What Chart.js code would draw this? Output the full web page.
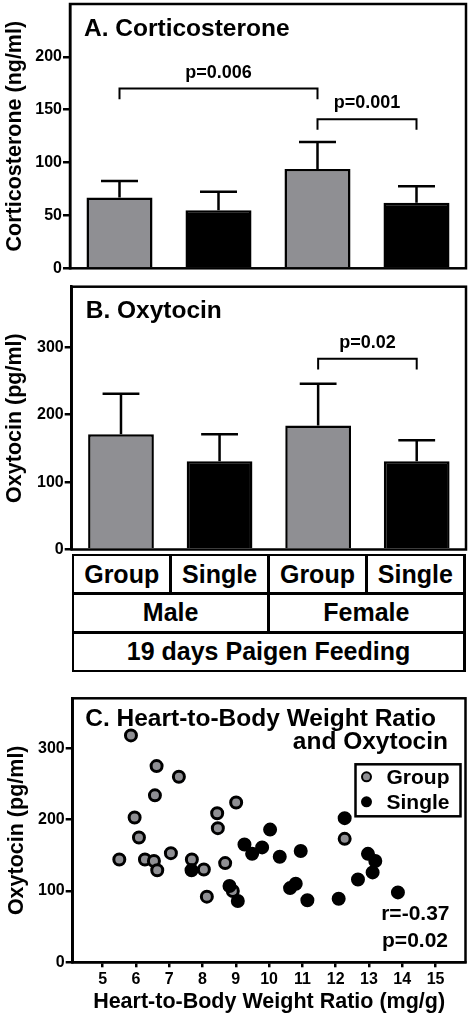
<!DOCTYPE html>
<html><head><meta charset="utf-8">
<script src="https://cdn.jsdelivr.net/npm/chart.js@4.4.1/dist/chart.umd.min.js"></script>
<style>
html,body{margin:0;padding:0;background:#fff;}
body{width:474px;height:1024px;position:relative;overflow:hidden;font-family:'Liberation Sans',Arial,sans-serif;}
.box{position:absolute;left:0;width:474px;}
#tbl{position:absolute;left:71.5px;top:553.8px;width:394px;height:118.4px;box-sizing:border-box;background:#000;padding:2.5px;display:grid;grid-template-columns:repeat(4,1fr);grid-template-rows:repeat(3,1fr);gap:2.5px;}
#tbl div{background:#fff;display:flex;align-items:center;justify-content:center;font-weight:bold;font-size:25px;color:#000;}
</style></head><body>
<div class="box" style="top:0;height:282px"><canvas id="cA"></canvas></div>
<div class="box" style="top:280px;height:282px"><canvas id="cB"></canvas></div>
<div class="box" style="top:680px;height:344px"><canvas id="cC"></canvas></div>
<div id="tbl"></div>
<script>
// ---------- data ----------
const categories = ['Group', 'Single', 'Group', 'Single'];
const sexes = ['Male', 'Female'];
const treatment = '19 days Paigen Feeding';

const corticoMean = [67, 55, 94, 62];
const corticoErr = [15.5, 17.5, 25.5, 15.5];
const corticoTicks = [0, 50, 100, 150, 200];
const corticoFrom = [0, 2];
const corticoTo = [2, 3];
const corticoTop = [170, 141];
const corticoLeg = [160, 131];
const corticoP = ['p=0.006', 'p=0.001'];

const oxyMean = [171, 131, 184, 131];
const oxyErr = [60, 40, 62, 31];
const oxyTicks = [0, 100, 200, 300];
const oxyFrom = [2];
const oxyTo = [3];
const oxyTop = [283];
const oxyLeg = [267];
const oxyP = ['p=0.02'];

const scatterXTicks = [5, 6, 7, 8, 9, 10, 11, 12, 13, 14, 15];
const scatterYTicks = [0, 100, 200, 300];
const groupRatio = [5.85, 6.62, 7.29, 6.57, 5.96, 6.09, 5.50, 6.27, 6.54, 6.64, 7.05, 7.68, 8.04, 8.13, 8.44, 8.46, 8.68, 9.01, 8.91, 12.27];
const groupOxy   = [318, 275, 260, 234, 203, 175, 144, 144, 142, 129, 153, 144, 130, 92, 209, 188, 139, 224, 100, 173];
const singleRatio = [7.67, 8.81, 9.06, 9.26, 9.49, 9.79, 10.03, 10.32, 10.63, 10.80, 10.95, 11.15, 12.09, 12.27, 12.67, 12.97, 13.19, 13.11, 13.87];
const singleOxy   = [129, 107, 86, 165, 152, 161, 186, 148, 104, 110, 156, 87, 89, 202, 116, 152, 142, 126, 98];
const corrText = ['r=-0.37', 'p=0.02'];

// ---------- styles ----------
const FONT = "'Liberation Sans', Arial, sans-serif";
const GRAY = '#8f8f93';
const barColors = categories.map((c) => c === 'Group' ? GRAY : '#000000');
Chart.defaults.font.family = FONT;
Chart.defaults.font.weight = 'bold';
Chart.defaults.color = '#000';

// ---------- table ----------
const tbl = document.getElementById('tbl');
categories.forEach((c) => { const d = document.createElement('div'); d.textContent = c; tbl.appendChild(d); });
sexes.forEach((s) => { const d = document.createElement('div'); d.textContent = s; d.style.gridColumn = 'span 2'; tbl.appendChild(d); });
{ const d = document.createElement('div'); d.textContent = treatment; d.style.gridColumn = 'span 4'; tbl.appendChild(d); }

// ---------- plugins ----------
const framePlugin = {
  id: 'frame',
  afterDraw(chart) {
    const { ctx, chartArea: a } = chart;
    ctx.save(); ctx.strokeStyle = '#000'; ctx.lineWidth = 2.5;
    ctx.strokeRect(a.left, a.top, a.right - a.left, a.bottom - a.top);
    ctx.restore();
  }
};
function errorPlugin(errs) {
  return {
    id: 'errbars',
    afterDatasetsDraw(chart) {
      const meta = chart.getDatasetMeta(0), y = chart.scales.y, ctx = chart.ctx;
      const vals = chart.data.datasets[0].data;
      ctx.save(); ctx.strokeStyle = '#000'; ctx.lineWidth = 2.5; ctx.lineCap = 'butt';
      meta.data.forEach((bar, i) => {
        const top = y.getPixelForValue(vals[i] + errs[i]);
        const half = bar.width * 0.28;
        ctx.beginPath();
        ctx.moveTo(bar.x, bar.y); ctx.lineTo(bar.x, top);
        ctx.moveTo(bar.x - half, top); ctx.lineTo(bar.x + half, top);
        ctx.stroke();
      });
      ctx.restore();
    }
  };
}
function bracketPlugin(from, to, top, leg, labels) {
  return {
    id: 'brackets',
    afterDraw(chart) {
      const x = chart.scales.x, y = chart.scales.y, ctx = chart.ctx;
      ctx.save(); ctx.lineWidth = 2; ctx.strokeStyle = '#000'; ctx.fillStyle = '#000';
      ctx.font = 'bold 18px ' + FONT; ctx.textAlign = 'center'; ctx.textBaseline = 'alphabetic';
      from.forEach((f, i) => {
        const x1 = x.getPixelForValue(f), x2 = x.getPixelForValue(to[i]);
        const yt = y.getPixelForValue(top[i]), yl = y.getPixelForValue(leg[i]);
        ctx.beginPath(); ctx.moveTo(x1, yl); ctx.lineTo(x1, yt); ctx.lineTo(x2, yt); ctx.lineTo(x2, yl); ctx.stroke();
        ctx.fillText(labels[i], (x1 + x2) / 2, yt - 11);
      });
      ctx.restore();
    }
  };
}
function titlePlugin(text) {
  return {
    id: 'ptitle',
    afterDraw(chart) {
      const { ctx, chartArea: a } = chart;
      ctx.save(); ctx.fillStyle = '#000'; ctx.font = 'bold 24.5px ' + FONT;
      ctx.textAlign = 'left'; ctx.textBaseline = 'alphabetic';
      ctx.fillText(text, a.left + 14, a.top + 31.5);
      ctx.restore();
    }
  };
}

function yAxis(ticks, max, title, width, titlePad) {
  return {
    min: 0, max: max,
    afterBuildTicks: (s) => { s.ticks = ticks.map((v) => ({ value: v })); },
    afterFit: (s) => { s.width = width; s.paddingTop = 0; s.paddingBottom = 0; },
    ticks: { font: { size: 16, weight: 'bold' }, color: '#000', padding: 1 },
    grid: { display: true, drawOnChartArea: false, drawTicks: true, tickLength: 7, color: '#000', lineWidth: 2.5 },
    border: { display: true, color: '#000', width: 2.5 },
    title: { display: true, text: title, color: '#000', font: { size: 21.5, weight: 'bold' }, padding: { top: titlePad, bottom: 0 } }
  };
}

function barChart(id, means, errs, ticks, max, yTitle, title, width, pad, br) {
  new Chart(document.getElementById(id), {
    type: 'bar',
    data: { labels: categories, datasets: [{ data: means, backgroundColor: barColors, borderColor: '#000', borderWidth: 2.5, barPercentage: 0.667, categoryPercentage: 1 }] },
    options: {
      responsive: true, maintainAspectRatio: false, animation: false,
      layout: { padding: pad },
      plugins: { legend: { display: false }, tooltip: { enabled: false } },
      scales: {
        x: { display: false },
        y: yAxis(ticks, max, yTitle, width, 2)
      }
    },
    plugins: [errorPlugin(errs), bracketPlugin(...br), titlePlugin(title), framePlugin]
  });
}

barChart('cA', corticoMean, corticoErr, corticoTicks, 250, 'Corticosterone (ng/ml)', 'A. Corticosterone', 70,
  { top: 4, right: 8, bottom: 13.7, left: 0 }, [corticoFrom, corticoTo, corticoTop, corticoLeg, corticoP]);
barChart('cB', oxyMean, oxyErr, oxyTicks, 390, 'Oxytocin (pg/ml)', 'B. Oxytocin', 71.7,
  { top: 6.7, right: 8, bottom: 12.5, left: 0 }, [oxyFrom, oxyTo, oxyTop, oxyLeg, oxyP]);

// ---------- scatter ----------
const scatterDeco = {
  id: 'scatterDeco',
  afterDraw(chart) {
    const { ctx, chartArea: a } = chart;
    ctx.save(); ctx.fillStyle = '#000'; ctx.strokeStyle = '#000';
    ctx.font = 'bold 24.5px ' + FONT; ctx.textBaseline = 'alphabetic';
    ctx.textAlign = 'left'; ctx.fillText('C. Heart-to-Body Weight Ratio', a.left + 12.5, a.top + 27.7);
    ctx.textAlign = 'right'; ctx.fillText('and Oxytocin', a.right - 17.5, a.top + 51);
    // legend
    const bx = a.right - 110, by = a.top + 66, bw = 105, bh = 52;
    ctx.lineWidth = 2.5; ctx.strokeRect(bx, by, bw, bh);
    const items = [['Group', GRAY], ['Single', '#000']];
    ctx.font = 'bold 21px ' + FONT; ctx.textAlign = 'left'; ctx.textBaseline = 'middle';
    items.forEach((it, i) => {
      const cy = by + 12.5 + i * 25;
      ctx.beginPath(); ctx.arc(bx + 11, cy, 4.5, 0, Math.PI * 2);
      ctx.fillStyle = it[1]; ctx.fill(); ctx.lineWidth = 2; ctx.strokeStyle = '#000'; ctx.stroke();
      ctx.fillStyle = '#000'; ctx.fillText(it[0], bx + 31, cy + 1);
    });
    // correlation
    ctx.textAlign = 'right'; ctx.textBaseline = 'alphabetic';
    ctx.fillText(corrText[0], a.right - 16, a.bottom - 42);
    ctx.fillText(corrText[1], a.right - 17.5, a.bottom - 15.6);
    ctx.restore();
  }
};

new Chart(document.getElementById('cC'), {
  type: 'scatter',
  data: {
    datasets: [
      { label: 'Single', data: singleRatio.map((x, i) => ({ x: x, y: singleOxy[i] })), backgroundColor: '#000', borderColor: '#000', pointRadius: 5.5, borderWidth: 3 },
      { label: 'Group', data: groupRatio.map((x, i) => ({ x: x, y: groupOxy[i] })), backgroundColor: GRAY, borderColor: '#000', pointRadius: 5.5, borderWidth: 3 }
    ]
  },
  options: {
    responsive: true, maintainAspectRatio: false, animation: false,
    layout: { padding: { top: 18.3, right: 6.5, bottom: 0, left: 0 } },
    plugins: { legend: { display: false }, tooltip: { enabled: false } },
    scales: {
      x: {
        type: 'linear', min: 4.1, max: 15.9,
        afterBuildTicks: (s) => { s.ticks = scatterXTicks.map((v) => ({ value: v })); },
        afterFit: (s) => { s.height = 61.7; s.paddingLeft = 0; s.paddingRight = 0; },
        ticks: { font: { size: 16, weight: 'bold' }, color: '#000', padding: 2.5, maxRotation: 0 },
        grid: { display: true, drawOnChartArea: false, drawTicks: true, tickLength: 5, color: '#000', lineWidth: 2.5 },
        border: { display: true, color: '#000', width: 2.5 },
        title: { display: true, text: 'Heart-to-Body Weight Ratio (mg/g)', color: '#000', font: { size: 21.5, weight: 'bold' }, padding: { top: 0, bottom: 9 } }
      },
      y: yAxis(scatterYTicks, 370, 'Oxytocin (pg/ml)', 72.7, 4)
    }
  },
  plugins: [scatterDeco, framePlugin]
});
</script>
</body></html>
